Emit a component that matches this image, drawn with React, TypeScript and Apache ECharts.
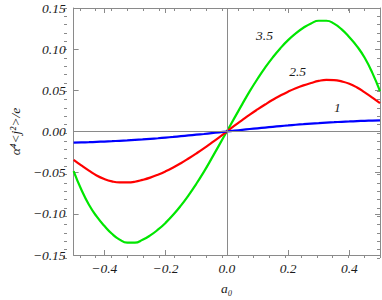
import React, { useEffect, useRef } from "react";
import * as echarts from "echarts";

// a0 sample positions
const xValues = [
  -0.5, -0.475, -0.45, -0.425, -0.4, -0.375, -0.35, -0.325, -0.3, -0.275,
  -0.25, -0.225, -0.2, -0.175, -0.15, -0.125, -0.1, -0.075, -0.05, -0.025,
  0,
  0.025, 0.05, 0.075, 0.1, 0.125, 0.15, 0.175, 0.2, 0.225, 0.25,
  0.275, 0.3, 0.325, 0.35, 0.375, 0.4, 0.425, 0.45, 0.475, 0.5,
];
// curve for parameter 3.5 (green)
const green35 = [
  -0.048, -0.0705, -0.089, -0.1032, -0.1145, -0.1242, -0.1313, -0.135, -0.135, -0.1315,
  -0.1262, -0.1193, -0.111, -0.1012, -0.09, -0.0775, -0.0638, -0.049, -0.033, -0.0165,
  0,
  0.0165, 0.033, 0.049, 0.0638, 0.0775, 0.09, 0.1012, 0.111, 0.1192, 0.126,
  0.1313, 0.1345, 0.1345, 0.131, 0.124, 0.1145, 0.1035, 0.0895, 0.0712, 0.049,
];
// curve for parameter 2.5 (red)
const red25 = [
  -0.0344, -0.0412, -0.0476, -0.0535, -0.0578, -0.0606, -0.0618, -0.0618, -0.061, -0.0588,
  -0.056, -0.0525, -0.0484, -0.0437, -0.0385, -0.0328, -0.0268, -0.0205, -0.0138, -0.007,
  0,
  0.007, 0.0138, 0.0205, 0.0268, 0.0328, 0.0385, 0.0437, 0.0484, 0.0525, 0.056,
  0.0589, 0.0614, 0.0626, 0.0624, 0.0608, 0.058, 0.0535, 0.0476, 0.0412, 0.0344,
];
// curve for parameter 1 (blue)
const blue1 = [
  -0.0136, -0.0133, -0.013, -0.0126, -0.0122, -0.0118, -0.0113, -0.0108, -0.0102, -0.0096,
  -0.0089, -0.0082, -0.0074, -0.0066, -0.0057, -0.0048, -0.0039, -0.003, -0.002, -0.001,
  0,
  0.001, 0.002, 0.003, 0.0039, 0.0048, 0.0057, 0.0066, 0.0074, 0.0082, 0.0089,
  0.0096, 0.0102, 0.0108, 0.0113, 0.0118, 0.0122, 0.0126, 0.013, 0.0133, 0.0136,
];

const xMajorTicks = [-0.4, -0.2, 0, 0.2, 0.4];
const seriesNames = ["3.5", "2.5", "1"];
// annotation anchor points in data coordinates
const labelCoords: [number, number][] = [
  [0.123, 0.1164],
  [0.231, 0.0732],
  [0.361, 0.0288],
];

const FONT = "'Liberation Serif', 'Times New Roman', serif";
const FRAME = "#8a8a8a";

function fmt(v: number, d: number) {
  const s = Math.abs(v) < 1e-9 ? (0).toFixed(d) : v.toFixed(d);
  return s.replace("-", "\u2212");
}

export default function App() {
  const ref = useRef<HTMLDivElement>(null);
  useEffect(() => {
    const chart = echarts.init(ref.current!, null, { renderer: "svg" });
    const lineStyle = { color: FRAME, width: 1 };
    const labelStyle = {
      fontFamily: FONT,
      fontStyle: "italic" as const,
      fontSize: 13.5,
      color: "#1a1a1a",
    };
    const pairs = (ys: number[]) => xValues.map((x, i) => [x, ys[i]]);
    const mkSeries = (name: string, ys: number[], color: string, idx: number) => ({
      name,
      type: "line",
      xAxisIndex: 0,
      yAxisIndex: 0,
      data: pairs(ys),
      smooth: true,
      showSymbol: false,
      symbol: "none",
      lineStyle: { color, width: 2.2 },
      itemStyle: { color },
      markPoint: {
        symbol: "circle",
        symbolSize: 1,
        itemStyle: { color: "rgba(0,0,0,0)" },
        label: {
          show: true,
          position: "inside",
          formatter: name,
          ...labelStyle,
        },
        data: [{ coord: labelCoords[idx], value: name }],
      },
    });

    const option: any = {
      animation: false,
      grid: [
        { left: 64, right: 2, top: 8, bottom: 42 },
        { left: 64, right: 2, top: 8, bottom: 42 },
      ],
      xAxis: [
        {
          gridIndex: 0,
          type: "value",
          position: "bottom",
          min: -0.5,
          max: 0.5,
          axisLine: { show: true, onZero: false, lineStyle },
          axisTick: { show: true, inside: true, length: 5, customValues: xMajorTicks, lineStyle },
          axisLabel: {
            show: true,
            customValues: xMajorTicks,
            margin: 6,
            formatter: (v: number) => fmt(v, 1),
            ...labelStyle,
          },
          splitLine: { show: false },
          name: "a\u2080",
          nameLocation: "middle",
          nameGap: 26,
          nameTextStyle: { ...labelStyle },
        },
        {
          gridIndex: 0,
          type: "value",
          position: "top",
          min: -0.5,
          max: 0.5,
          axisLine: { show: true, onZero: false, lineStyle },
          axisTick: { show: true, inside: true, length: 5, customValues: xMajorTicks, lineStyle },
          axisLabel: { show: false },
          splitLine: { show: false },
        },
        {
          gridIndex: 1,
          type: "value",
          position: "bottom",
          min: -0.5,
          max: 0.5,
          interval: 0.05,
          axisLine: { show: false, onZero: false },
          axisTick: { show: true, inside: true, length: 3, lineStyle },
          axisLabel: { show: false },
          splitLine: { show: false },
        },
        {
          gridIndex: 1,
          type: "value",
          position: "top",
          min: -0.5,
          max: 0.5,
          interval: 0.05,
          axisLine: { show: false, onZero: false },
          axisTick: { show: true, inside: true, length: 3, lineStyle },
          axisLabel: { show: false },
          splitLine: { show: false },
        },
      ],
      yAxis: [
        {
          gridIndex: 0,
          type: "value",
          position: "left",
          min: -0.15,
          max: 0.15,
          interval: 0.05,
          axisLine: { show: true, onZero: false, lineStyle },
          axisTick: { show: true, inside: true, length: 5, lineStyle },
          axisLabel: {
            show: true,
            margin: 8,
            formatter: (v: number) => fmt(v, 2),
            ...labelStyle,
          },
          splitLine: { show: false },
          name: "\u03b1\u2074<j\u00b2>/e",
          nameLocation: "middle",
          nameGap: 46,
          nameTextStyle: { ...labelStyle },
        },
        {
          gridIndex: 0,
          type: "value",
          position: "right",
          min: -0.15,
          max: 0.15,
          interval: 0.05,
          axisLine: { show: true, onZero: false, lineStyle },
          axisTick: { show: true, inside: true, length: 5, lineStyle },
          axisLabel: { show: false },
          splitLine: { show: false },
        },
        {
          gridIndex: 1,
          type: "value",
          position: "left",
          min: -0.15,
          max: 0.15,
          interval: 0.01,
          axisLine: { show: false, onZero: false },
          axisTick: { show: true, inside: true, length: 3, lineStyle },
          axisLabel: { show: false },
          splitLine: { show: false },
        },
        {
          gridIndex: 1,
          type: "value",
          position: "right",
          min: -0.15,
          max: 0.15,
          interval: 0.01,
          axisLine: { show: false, onZero: false },
          axisTick: { show: true, inside: true, length: 3, lineStyle },
          axisLabel: { show: false },
          splitLine: { show: false },
        },
      ],
      series: [
        {
          type: "line",
          xAxisIndex: 0,
          yAxisIndex: 0,
          data: [],
          silent: true,
          markLine: {
            silent: true,
            symbol: "none",
            label: { show: false },
            lineStyle: { color: FRAME, width: 1, type: "solid" },
            data: [{ xAxis: 0 }, { yAxis: 0 }],
          },
        },
        mkSeries(seriesNames[0], green35, "#00e600", 0),
        mkSeries(seriesNames[1], red25, "#ff0000", 1),
        mkSeries(seriesNames[2], blue1, "#0000ff", 2),
      ],
    };
    chart.setOption(option);
    return () => chart.dispose();
  }, []);
  return (
    <div
      ref={ref}
      style={{ position: "absolute", left: 0, top: 0, width: 382, height: 300 }}
    />
  );
}
